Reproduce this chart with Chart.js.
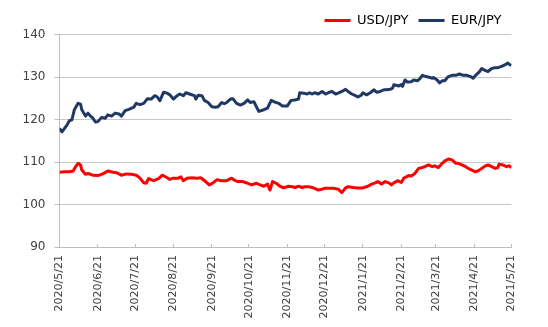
<!DOCTYPE html>
<html>
<head>
<meta charset="utf-8">
<script src="https://cdn.jsdelivr.net/npm/chart.js@4"></script>
<style>
  body { margin: 0; background: #fff; }
  .wrap { width: 548px; height: 327px; position: relative; }
</style>
</head>
<body>
<div class="wrap"><canvas id="fxChart"></canvas></div>
<script>
// tick labels and their day offsets from 2020/5/21
const monthLabels = ['2020/5/21', '2020/6/21', '2020/7/21', '2020/8/21', '2020/9/21', '2020/10/21', '2020/11/21',
    '2020/12/21', '2021/1/21', '2021/2/21', '2021/3/21', '2021/4/21', '2021/5/21'];
const monthDays = [0, 31, 61, 92, 123, 153, 184, 214, 245, 276, 304, 335, 365];

// USD/JPY (day offset, rate)
const usdDays = [0, 4, 8, 11, 13, 15, 17, 18, 21, 23, 27, 31, 35, 39, 43, 46, 50, 54, 58, 62, 65, 68, 70, 72, 76, 80,
    83, 87, 89, 92, 96, 98, 100, 103, 107, 111, 114, 118, 121, 124, 127, 131, 135, 139, 142, 144, 148, 152, 155, 159,
    162, 165, 168, 170, 172, 175, 178, 181, 185, 188, 190, 193, 196, 198, 201, 204, 206, 209, 212, 214, 218, 222, 225,
    228, 231, 233, 237, 241, 245, 249, 252, 255, 257, 260, 263, 266, 268, 270, 273, 276, 278, 282, 284, 287, 290, 293,
    295, 298, 301, 303, 306, 309, 311, 314, 317, 320, 322, 325, 328, 330, 333, 336, 338, 341, 344, 346, 349, 352, 354,
    355, 358, 361, 363, 365];
const usdValues = [107.6, 107.7, 107.7, 107.9, 108.9, 109.7, 109.3, 108.1, 107.1, 107.3, 106.9, 106.8, 107.2, 107.9,
    107.6, 107.5, 106.9, 107.2, 107.1, 106.9, 106.2, 105.1, 105.0, 106.1, 105.6, 106.1, 106.9, 106.3, 105.9, 106.2,
    106.2, 106.5, 105.6, 106.2, 106.3, 106.2, 106.3, 105.4, 104.6, 105.1, 105.8, 105.6, 105.6, 106.2, 105.6, 105.4,
    105.4, 105.0, 104.6, 105.0, 104.6, 104.3, 104.8, 103.4, 105.4, 105.0, 104.3, 103.9, 104.3, 104.2, 104.0, 104.3,
    104.0, 104.2, 104.2, 104.0, 103.8, 103.4, 103.6, 103.8, 103.8, 103.8, 103.6, 102.8, 103.9, 104.2, 104.0, 103.9,
    103.9, 104.3, 104.8, 105.1, 105.4, 104.8, 105.4, 105.1, 104.6, 105.1, 105.6, 105.2, 106.2, 106.8, 106.7, 107.3,
    108.5, 108.7, 108.9, 109.3, 108.9, 109.1, 108.7, 109.7, 110.2, 110.7, 110.5, 109.7, 109.7, 109.3, 108.9, 108.5,
    108.1, 107.7, 107.9, 108.5, 109.1, 109.3, 108.9, 108.5, 108.7, 109.5, 109.3, 108.9, 109.1, 108.7];

// EUR/JPY (day offset, rate)
const eurDays = [0, 2, 6, 8, 10, 12, 15, 17, 18, 21, 23, 25, 27, 29, 31, 34, 37, 39, 42, 45, 48, 50, 53, 56, 60, 62,
    65, 68, 71, 74, 77, 79, 81, 84, 87, 89, 92, 95, 97, 100, 102, 105, 109, 110, 112, 115, 117, 120, 123, 126, 128,
    131, 133, 135, 138, 140, 143, 146, 149, 152, 154, 157, 159, 161, 165, 168, 171, 174, 177, 180, 182, 184, 187, 190,
    193, 194, 197, 200, 202, 204, 206, 209, 212, 215, 217, 220, 223, 225, 228, 231, 233, 236, 239, 241, 244, 245, 248,
    251, 254, 256, 259, 262, 264, 267, 269, 270, 274, 276, 277, 279, 281, 284, 286, 289, 291, 293, 296, 299, 301, 302,
    305, 307, 309, 311, 314, 317, 320, 323, 326, 329, 332, 334, 336, 339, 341, 344, 346, 349, 352, 354, 357, 360, 362,
    363, 365];
const eurValues = [117.9, 117.1, 118.7, 119.7, 119.9, 122.3, 123.8, 123.6, 122.3, 120.8, 121.5, 120.8, 120.3, 119.4,
    119.5, 120.5, 120.3, 121.1, 120.8, 121.5, 121.3, 120.8, 122.1, 122.4, 122.9, 123.8, 123.5, 123.8, 124.9, 124.8,
    125.6, 125.3, 124.4, 126.4, 126.2, 125.8, 124.8, 125.6, 126.0, 125.6, 126.3, 126.0, 125.6, 124.8, 125.7, 125.6,
    124.5, 124.0, 123.0, 122.9, 123.0, 124.0, 123.7, 124.0, 124.8, 124.9, 123.8, 123.4, 123.8, 124.6, 124.0, 124.2,
    123.0, 121.9, 122.3, 122.7, 124.5, 124.1, 123.8, 123.2, 123.2, 123.2, 124.5, 124.6, 124.8, 126.3, 126.2, 126.0,
    126.3, 126.0, 126.3, 126.0, 126.6, 126.0, 126.3, 126.6, 126.0, 126.2, 126.6, 127.1, 126.6, 126.0, 125.6, 125.3,
    125.8, 126.3, 125.8, 126.3, 127.0, 126.4, 126.6, 127.0, 127.0, 127.1, 127.4, 128.2, 127.9, 128.2, 127.8, 129.3,
    128.8, 128.9, 129.3, 129.1, 129.6, 130.4, 130.1, 129.9, 129.7, 129.9, 129.3, 128.6, 129.1, 129.1, 130.1, 130.4,
    130.4, 130.7, 130.4, 130.4, 130.1, 129.7, 130.4, 131.2, 132.0, 131.5, 131.3, 132.0, 132.2, 132.2, 132.5, 132.9,
    133.3, 133.0, 132.7];

const yTicks = [90, 100, 110, 120, 130, 140];

function toPoints(days, values) {
    return days.map((d, i) => ({ x: d, y: values[i] }));
}

const textColor = '#404040';
const axisColor = '#bfbfbf';

const ctx = document.getElementById('fxChart').getContext('2d');
const fxChart = new Chart(ctx, {
    type: 'line',
    data: {
        datasets: [{
            label: 'USD/JPY',
            data: toPoints(usdDays, usdValues),
            borderColor: '#ff0000',
            backgroundColor: '#ff0000',
            borderWidth: 3,
            pointRadius: 0,
            tension: 0,
            borderJoinStyle: 'round'
        }, {
            label: 'EUR/JPY',
            data: toPoints(eurDays, eurValues),
            borderColor: '#203864',
            backgroundColor: '#203864',
            borderWidth: 3,
            pointRadius: 0,
            tension: 0,
            borderJoinStyle: 'round'
        }]
    },
    options: {
        responsive: true,
        maintainAspectRatio: false,
        animation: false,
        layout: {
            padding: { top: 4, right: 36.5, bottom: 0, left: 0 }
        },
        scales: {
            x: {
                type: 'linear',
                min: monthDays[0],
                max: monthDays[monthDays.length - 1],
                afterBuildTicks: function(scale) {
                    scale.ticks = monthDays.map(v => ({ value: v }));
                },
                afterFit: function(scale) {
                    scale.height = 80;
                },
                ticks: {
                    autoSkip: false,
                    minRotation: 90,
                    maxRotation: 90,
                    padding: 11,
                    color: textColor,
                    font: { family: 'DejaVu Sans', size: 11 },
                    callback: function(value) {
                        return monthLabels[monthDays.indexOf(value)];
                    }
                },
                grid: {
                    drawOnChartArea: false,
                    drawTicks: true,
                    tickLength: -3,
                    tickColor: axisColor
                },
                border: { color: axisColor, width: 1 }
            },
            y: {
                min: 90,
                max: 140,
                afterBuildTicks: function(scale) {
                    scale.ticks = yTicks.map(v => ({ value: v }));
                },
                afterFit: function(scale) {
                    scale.width = 59.5;
                },
                ticks: {
                    padding: 9,
                    color: textColor,
                    font: { family: 'DejaVu Sans', size: 12 }
                },
                grid: {
                    color: '#c8c8c8',
                    borderDash: [2, 2],
                    tickLength: 5,
                    tickColor: axisColor,
                    tickBorderDash: []
                },
                border: { color: axisColor, width: 1 }
            }
        },
        plugins: {
            legend: {
                position: 'top',
                align: 'end',
                maxHeight: 30.5,
                labels: {
                    usePointStyle: true,
                    pointStyle: 'line',
                    pointStyleWidth: 26,
                    padding: 10,
                    color: '#000000',
                    font: { family: 'DejaVu Sans', size: 13 }
                }
            },
            tooltip: { enabled: false }
        }
    }
});
</script>
</body>
</html>
